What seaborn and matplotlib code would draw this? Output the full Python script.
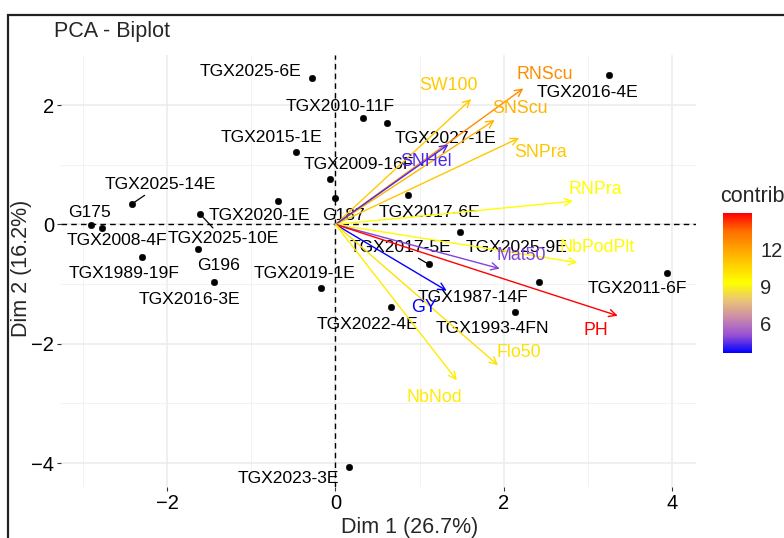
import numpy as np
import pandas as pd
import matplotlib
matplotlib.use("Agg")
import matplotlib.pyplot as plt
import seaborn as sns
from matplotlib.colors import LinearSegmentedColormap, Normalize
from matplotlib.cm import ScalarMappable
from matplotlib.patches import Rectangle

# --------------------------
# Data
# --------------------------
ind_names = ["TGX2025-6E", "TGX2010-11F", "TGX2027-1E", "TGX2015-1E", "TGX2009-16F",
             "TGX2025-14E", "G175", "TGX2008-4F", "TGX2025-10E", "TGX2020-1E",
             "G196", "TGX2016-3E", "TGX1989-19F", "G187", "TGX2017-6E",
             "TGX2019-1E", "TGX2017-5E", "TGX2025-9E", "TGX1987-14F", "TGX1993-4FN",
             "TGX2011-6F", "TGX2022-4E", "TGX2016-4E", "TGX2023-3E"]
ind_dim1 = [-0.28, 0.33, 0.61, -0.47, -0.07, -2.41, -2.90, -2.77, -1.61, -0.68,
            -1.63, -1.44, -2.30, -0.01, 0.86, -0.17, 1.11, 1.48, 2.41, 2.13,
            3.94, 0.66, 3.25, 0.16]
ind_dim2 = [2.45, 1.78, 1.70, 1.22, 0.76, 0.35, -0.01, -0.06, 0.18, 0.40,
            -0.41, -0.97, -0.54, 0.45, 0.50, -1.06, -0.67, -0.12, -0.97, -1.46,
            -0.81, -1.39, 2.50, -4.07]

var_names = ["SW100", "RNScu", "SNScu", "SNPra", "SNHel", "RNPra",
             "NbPodPlt", "Mat50", "GY", "PH", "Flo50", "NbNod"]
var_dim1 = [1.61, 2.23, 1.89, 2.18, 1.34, 2.82, 2.87, 1.95, 1.32, 3.35, 1.93, 1.44]
var_dim2 = [2.10, 2.28, 1.75, 1.45, 1.34, 0.39, -0.64, -0.74, -1.11, -1.53, -2.36, -2.61]
var_contrib = [10.9, 12.7, 11.6, 11.0, 4.3, 9.3, 9.4, 4.8, 3.57, 15.0, 10.2, 9.9]

# label placement (repelled labels), offsets in pixels from the mark
ind_offsets = [(-61, 7), (-23, 12), (59, -15), (-24, 14), (29, 15), (28, 19), (-2, 13),
               (15, -12), (23, -25), (-19, -15), (20, -17), (-25, -17), (-18, -17),
               (9, -18), (22, -18), (-17, 14), (-29, 17), (56, -16), (-66, -15),
               (-23, -17), (-30, -16), (-24, -17), (-22, -17), (-61, -11)]
ind_segment = {"TGX2025-14E", "TGX2025-10E", "TGX2017-5E"}
var_offsets = [(-23, 14), (21, 14), (25, 12), (21, -15), (-22, -17), (22, 12),
               (20, 15), (21, 13), (-23, -17), (-22, -15), (21, 13), (-22, -17)]

ind = pd.DataFrame({"name": ind_names, "Dim1": ind_dim1, "Dim2": ind_dim2})

# blue -> yellow -> red, interpolated roughly like R does (Lab)
cmap = LinearSegmentedColormap.from_list(
    "contrib",
    [(0.0, "#0000FF"), (0.125, "#9750D5"), (0.25, "#CA8AAA"), (0.375, "#EAC476"),
     (0.5, "#FFFF00"), (0.625, "#FFD100"), (0.75, "#FFA100"), (0.875, "#FF6C00"),
     (1.0, "#FF0000")])
norm = Normalize(vmin=min(var_contrib), vmax=max(var_contrib))

# --------------------------
# Plot
# --------------------------
sns.set_theme(style="whitegrid")
plt.rcParams["font.family"] = ["Liberation Sans", "DejaVu Sans"]

W, H = 784, 538
fig = plt.figure(figsize=(W / 100, H / 100), dpi=100)
ax = fig.add_axes([61 / W, 1 - 487 / H, 635 / W, 432 / H])

ax.set_xlim(-3.258, 4.279)
ax.set_ylim(-4.40, 2.84)
ax.set_xticks([-2, 0, 2, 4])
ax.set_yticks([-4, -2, 0, 2])
ax.set_xticks([-3, -1, 1, 3], minor=True)
ax.set_yticks([-3, -1, 1], minor=True)
ax.grid(True, which="major", color="#EBEBEB", lw=1.1)
ax.grid(True, which="minor", color="#F0F0F0", lw=0.6)
for s in ax.spines.values():
    s.set_visible(False)
ax.tick_params(which="major", direction="out", length=3, width=0.8, color="#333333",
               labelsize=14.5, labelcolor="black", pad=2, bottom=True, left=True)
ax.tick_params(which="minor", length=0)
ax.set_axisbelow(True)

ax.axhline(0, color="black", lw=1.0, ls=(0, (4, 3)), zorder=1)
ax.axvline(0, color="black", lw=1.0, ls=(0, (4, 3)), zorder=1)

# individuals
sns.scatterplot(data=ind, x="Dim1", y="Dim2", color="black", s=22, edgecolor=None,
                ax=ax, zorder=3, legend=False)
for name, x, y, off in zip(ind_names, ind_dim1, ind_dim2, ind_offsets):
    props = None
    if name in ind_segment:
        props = dict(arrowstyle="-", color="black", lw=0.9, shrinkA=0, shrinkB=2)
    ax.annotate(name, xy=(x, y), xytext=off, textcoords="offset pixels",
                ha="center", va="center", fontsize=12.6, color="black",
                arrowprops=props, zorder=4)

# variables
for name, x, y, c, off in zip(var_names, var_dim1, var_dim2, var_contrib, var_offsets):
    col = cmap(norm(c))
    ax.annotate("", xy=(x, y), xytext=(0, 0),
                arrowprops=dict(arrowstyle="->", color=col, lw=1.0, shrinkA=0,
                                shrinkB=0, mutation_scale=13), zorder=5)
    ax.annotate(name, xy=(x, y), xytext=off, textcoords="offset pixels",
                ha="center", va="center", fontsize=12.8, color=col, zorder=6)

ax.set_xlabel("")
ax.set_ylabel("")
fig.text(410 / W, 1 - 527 / H, "Dim 1 (26.7%)", ha="center", va="center", fontsize=15.5)
fig.text(22 / W, 1 - 268 / H, "Dim 2 (16.2%)", ha="center", va="center",
         rotation=90, fontsize=15.5)
fig.text(54 / W, 1 - 32 / H, "PCA - Biplot", ha="left", va="center", fontsize=15.5)

# colour bar legend
cax = fig.add_axes([723 / W, 1 - 353 / H, 29 / W, 140 / H])
cb = fig.colorbar(ScalarMappable(norm=norm, cmap=cmap), cax=cax, ticks=[6, 9, 12])
cb.outline.set_visible(False)
cax.tick_params(direction="in", length=5, width=1, color="white", left=True, right=True,
                labelleft=False, labelright=True, labelsize=14.5, pad=6)
fig.text(720 / W, 1 - 197 / H, "contrib", ha="left", va="center", fontsize=15.5)

# outer frame of the screenshot
fig.add_artist(Rectangle((7.5 / W, -1), 2, 1 + (1 - 14.5 / H), transform=fig.transFigure,
                         fill=False, ec="#222222", lw=1.6))

fig.savefig("out.png", dpi=100)
plt.close(fig)
